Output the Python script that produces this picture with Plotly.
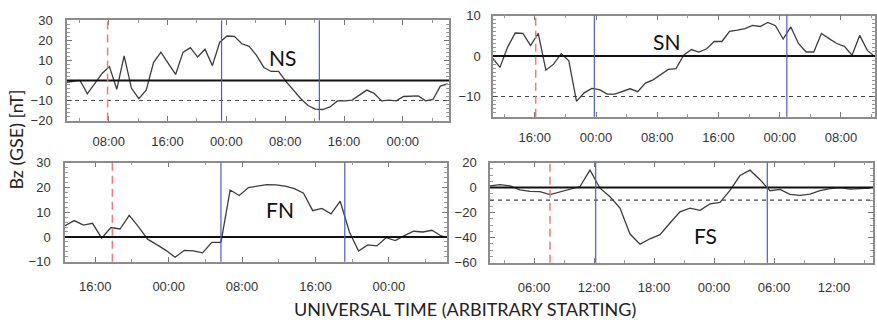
import pandas as pd
import plotly.graph_objects as go

W, H = 877, 327
BASE = pd.Timestamp("2000-01-01")

# ---------------- Bz (GSE) samples in nT, one per hour ----------------
# NS event
ns_start_h = 2.1
ns_bz = [-1, -0.5, 0, -6.7, -1.5, 3.5, 6.9, -4.4, 12.3, -3.9, -9.1, -4.8, 8.9,
         14.1, 8.5, 3, 14, 16.4, 11.7, 15.6, 7.4, 19.1, 22.2, 22, 18.3, 17, 12.5,
         6.5, 4.5, 4.5, -0.5, -4.8, -9, -12.5, -14.3, -14.5, -13.2, -10.2, -10.2,
         -9.8, -7.5, -4.8, -6.4, -10.2, -9.8, -10.2, -8, -8, -7.7, -10.2, -9.5,
         -2.8, -1.7]
ns_shock_h = 7.85
ns_bounds_h = [23.35, 36.65]

# SN event
sn_start_h = 10.45
sn_bz = [-0.4, -2.8, 2.2, 5.7, 5.6, 2.6, 5.6, -3.5, -2, 0.6, -1.2, -11.2, -9.1,
         -8, -8.3, -9.4, -9.4, -8.8, -8.1, -8.8, -6.7, -5.9, -4.5, -3.3, -3.1,
         0.2, 1.6, 1, 1.8, 3.6, 3.6, 6.1, 6.4, 6.8, 7.6, 7.3, 8.3, 7.5, 4.2, 7.2,
         3.1, 1, 1, 5.6, 4.3, 3.1, 2.4, 0.2, 5.1, 1.4, -0.2]
sn_shock_h = 16.12
sn_bounds_h = [23.78, 48.93]

# FN event
fn_start_h = 12.7
fn_bz = [4.5, 6.6, 4.8, 5.5, -0.5, 3.8, 3.2, 8.7, 4.2, -0.9, -3.1, -5.4, -8.2,
         -5.4, -5.6, -6.4, -2.2, -2.2, 18.9, 16.7, 19.9, 20.6, 21.1, 21, 20.5,
         19.5, 17.6, 10.6, 11.5, 9.3, 14.4, 2, -5.7, -3.2, -3.6, -0.3, -1.5, 0.5,
         2.3, 2, 2.7, 0.4, -0.5]
fn_shock_h = 17.86
fn_bounds_h = [29.7, 43.2]

# FS event
fs_start_h = 1.6
fs_bz = [1.3, 2.3, 1.3, -1.8, -3, -3.2, -5.6, -3.5, -1.5, 0.8, 13.9, -0.5, -7.3,
         -16.4, -37.1, -45.2, -40.9, -37.6, -28.3, -19.4, -16.4, -18.2, -13.1,
         -11.9, -2.3, 9.6, 13.9, 6.3, -2.5, -1.5, -5.5, -6.3, -5.3, -2.5, -0.8, 0,
         -1.3, -1, -0.5]
fs_shock_h = 7.6
fs_bounds_h = [12.17, 29.33]

event_names = ["NS", "SN", "FN", "FS"]
reference_level = -10   # nT, dashed guide

y_title = "Bz (GSE) [nT]"
x_title = "UNIVERSAL TIME (ARBITRARY STARTING)"


def hours(h):
    return BASE + pd.to_timedelta(h, unit="h")


HOUR_MS = 3600 * 1000

panels = [
    dict(name=event_names[0], start=ns_start_h, bz=ns_bz, shock=ns_shock_h,
         bounds=ns_bounds_h, xr=(2.33, 54.28), yr=(-20, 30), ydt=10, ymin=2,
         xdt=8, xmin=4, guide=True, label=(31.7, 11.4), box=(67, 449, 14, 119),
         xso=8, yso=10),
    dict(name=event_names[1], start=sn_start_h, bz=sn_bz, shock=sn_shock_h,
         bounds=sn_bounds_h, xr=(10.54, 60.45), yr=(-15, 10), ydt=10, ymin=1,
         xdt=8, xmin=4, guide=True, label=(33.2, 3.5), box=(493, 875, 9, 115),
         xso=8, yso=8),
    dict(name=event_names[2], start=fn_start_h, bz=fn_bz, shock=fn_shock_h,
         bounds=fn_bounds_h, xr=(12.7, 54.34), yr=(-10, 30), ydt=10, ymin=2,
         xdt=8, xmin=4, guide=False, label=(36.15, 11.2), box=(65, 447, 163, 267),
         xso=12, yso=10),
    dict(name=event_names[3], start=fs_start_h, bz=fs_bz, shock=fs_shock_h,
         bounds=fs_bounds_h, xr=(1.6, 39.9), yr=(-60, 20), ydt=20, ymin=5,
         xdt=6, xmin=3, guide=True, label=(23.1, -38.4), box=(490, 873, 163, 268),
         xso=12, yso=9),
]

tick_font = dict(family="Liberation Sans, Arial, sans-serif", size=13, color="#333333")
text_family = "Lato, Open Sans, sans-serif"

fig = go.Figure()
shapes, annotations = [], []
layout = {}

for k, p in enumerate(panels, start=1):
    sx = "" if k == 1 else str(k)
    xa, ya = "x" + sx, "y" + sx
    times = [hours(p["start"] + i) for i in range(len(p["bz"]))]
    fig.add_trace(go.Scatter(
        x=times, y=p["bz"], mode="lines",
        line=dict(color="#3c3c3c", width=1.3),
        xaxis=xa, yaxis=ya, showlegend=False, hoverinfo="skip"))

    l, r, t, b = p["box"]
    layout["xaxis" + sx] = dict(
        type="date", domain=[l / W, r / W], anchor=ya,
        range=[hours(p["xr"][0]), hours(p["xr"][1])],
        tickmode="linear", tick0=BASE, dtick=p["xdt"] * HOUR_MS,
        tickformat="%H:%M", ticks="inside", ticklen=5, tickwidth=1,
        tickcolor="#777777", showline=True, linecolor="#8c8c8c", linewidth=1.5,
        mirror="ticks", showgrid=False, zeroline=False, tickfont=tick_font,
        ticklabelstandoff=p["xso"],
        minor=dict(ticks="inside", ticklen=3, tickwidth=1, tickcolor="#999999",
                   tick0=BASE, dtick=p["xmin"] * HOUR_MS, showgrid=False))
    layout["yaxis" + sx] = dict(
        domain=[1 - b / H, 1 - t / H], anchor=xa, range=list(p["yr"]),
        tickmode="linear", tick0=0, dtick=p["ydt"], ticks="inside", ticklen=5,
        tickwidth=1, tickcolor="#777777", showline=True, linecolor="#8c8c8c",
        linewidth=1.5, mirror="ticks", showgrid=False, zeroline=False,
        tickfont=tick_font, ticklabelstandoff=p["yso"],
        minor=dict(ticks="inside", ticklen=3, tickwidth=1, tickcolor="#999999",
                   dtick=p["ymin"], showgrid=False))

    # zero line
    shapes.append(dict(type="line", xref=xa + " domain", yref=ya, x0=0, x1=1,
                       y0=0, y1=0, line=dict(color="#111111", width=2)))
    # -10 nT guide
    if p["guide"]:
        shapes.append(dict(type="line", xref=xa + " domain", yref=ya, x0=0, x1=1,
                           y0=reference_level, y1=reference_level,
                           line=dict(color="#444444", width=1.2, dash="4px,4px")))
    # shock arrival
    shapes.append(dict(type="line", xref=xa, yref=ya + " domain",
                       x0=hours(p["shock"]), x1=hours(p["shock"]), y0=0, y1=1,
                       line=dict(color="#f07a7a", width=1.5, dash="8px,5px")))
    # ejecta boundaries
    for bh in p["bounds"]:
        shapes.append(dict(type="line", xref=xa, yref=ya + " domain",
                           x0=hours(bh), x1=hours(bh), y0=0, y1=1,
                           line=dict(color="#4c5cbf", width=1.2)))
    annotations.append(dict(x=hours(p["label"][0]), y=p["label"][1], xref=xa, yref=ya,
                            text=p["name"], showarrow=False,
                            xanchor="center", yanchor="middle",
                            font=dict(family=text_family, size=21, color="#111111")))

annotations.append(dict(x=16 / W, y=1 - 139 / H, xref="paper", yref="paper",
                        text=y_title, textangle=-90, showarrow=False,
                        xanchor="center", yanchor="middle",
                        font=dict(family=text_family, size=18, color="#222222")))
annotations.append(dict(x=465 / W, y=1 - 316 / H, xref="paper", yref="paper",
                        text=x_title, showarrow=False,
                        xanchor="center", yanchor="middle",
                        font=dict(family=text_family, size=18, color="#222222")))

fig.update_layout(
    width=W, height=H, margin=dict(l=0, r=0, t=0, b=0),
    paper_bgcolor="white", plot_bgcolor="white",
    shapes=shapes, annotations=annotations, **layout)

fig.write_html("out.html")
